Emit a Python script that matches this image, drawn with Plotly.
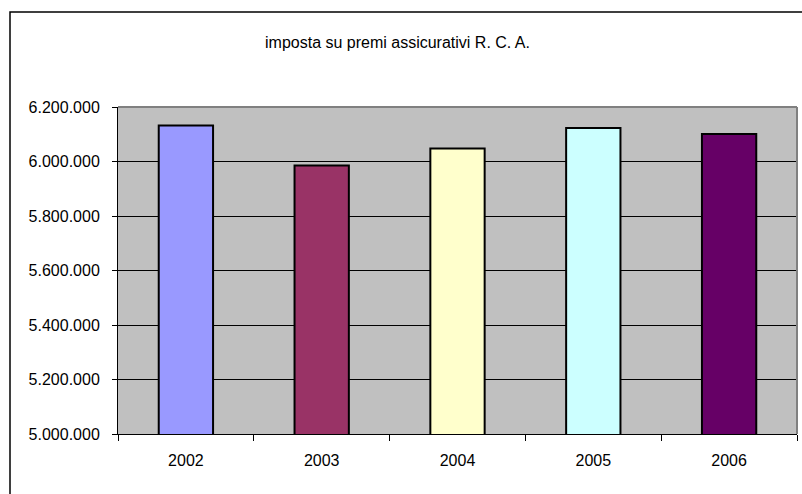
import plotly.graph_objects as go

# Annual revenue of the R.C.A. insurance premium tax
years = ["2002", "2003", "2004", "2005", "2006"]
values = [6132000, 5985000, 6048000, 6123000, 6101000]
bar_colors = ["#9999FF", "#993366", "#FFFFCC", "#CCFFFF", "#660066"]
title_text = "imposta su premi assicurativi R. C. A."

W, H = 802, 494
L, R, T, B = 118, 5, 107, 60
PW, PH = W - L - R, H - T - B
FONT = "Liberation Sans, Arial, sans-serif"

fig = go.Figure(
    go.Bar(
        x=years,
        y=values,
        marker=dict(color=bar_colors, line=dict(color="black", width=2)),
        showlegend=False,
        hoverinfo="x+y",
    )
)

fig.update_layout(
    width=W,
    height=H,
    margin=dict(l=L, r=R, t=T, b=B),
    paper_bgcolor="white",
    plot_bgcolor="#C0C0C0",
    separators=",.",
    bargap=0.6,
    font=dict(family=FONT, size=16, color="black"),
    annotations=[
        dict(
            text=title_text,
            xref="paper", yref="paper",
            x=(397 - L) / PW, y=1 + (T - 43) / PH,
            xanchor="center", yanchor="middle",
            showarrow=False,
            font=dict(family=FONT, size=16, color="black"),
        )
    ],
    shapes=[
        # chart frame (left and top edges fall inside the canvas)
        dict(
            type="rect", xref="paper", yref="paper",
            x0=-(L - 10) / PW, x1=1.05,
            y0=-0.3, y1=1 + (T - 12) / PH,
            line=dict(color="black", width=1.5), fillcolor="rgba(0,0,0,0)",
            layer="below",
        ),
        # plot area border, top and right
        dict(
            type="line", xref="paper", yref="paper",
            x0=0, x1=1, y0=1, y1=1,
            line=dict(color="#808080", width=2),
        ),
        dict(
            type="line", xref="paper", yref="paper",
            x0=1, x1=1, y0=0, y1=1,
            line=dict(color="#808080", width=2),
        ),
    ],
)

fig.update_yaxes(
    range=[5000000, 6200000],
    dtick=200000,
    tickformat=",d",
    showgrid=True,
    gridcolor="black",
    gridwidth=1,
    ticks="outside",
    ticklen=5,
    tickcolor="black",
    ticklabelstandoff=9,
    showline=True,
    linecolor="black",
    linewidth=1,
    zeroline=False,
)

fig.update_xaxes(
    type="category",
    tickson="boundaries",
    ticks="outside",
    ticklen=6,
    tickcolor="black",
    ticklabelstandoff=12,
    showline=True,
    linecolor="black",
    linewidth=1,
    showgrid=False,
)

fig.write_html("out.html")
